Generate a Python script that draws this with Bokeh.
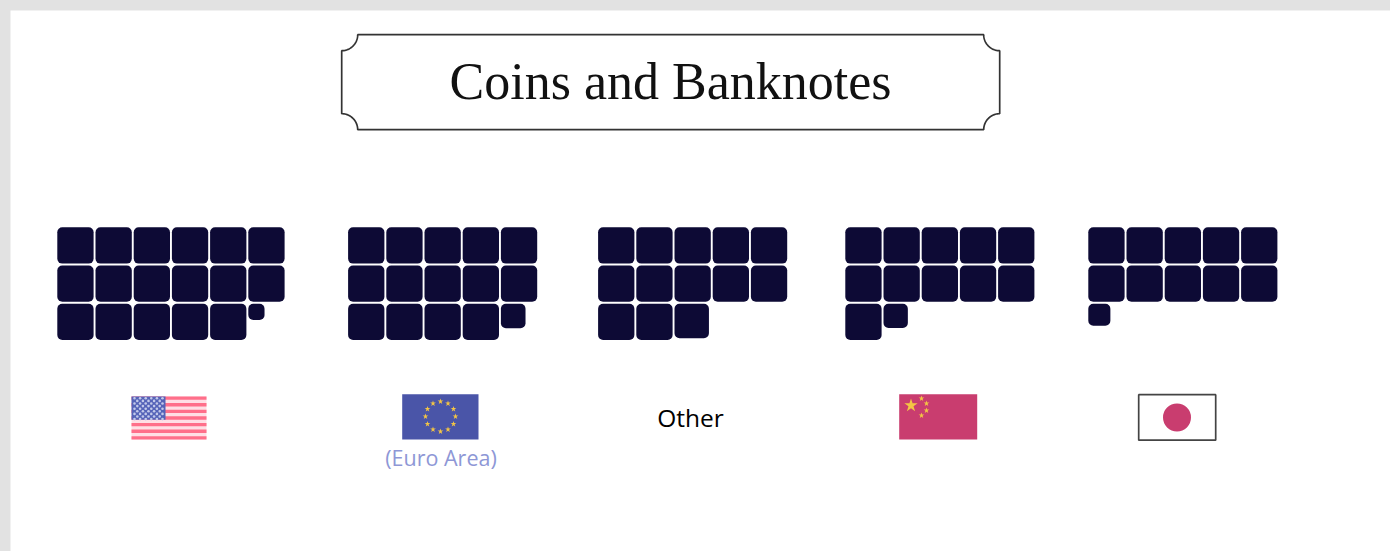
import math
import numpy as np
from bokeh.plotting import figure
from bokeh.models import Range1d, GlobalInlineStyleSheet
from bokeh.core.properties import value
from bokeh.embed import file_html
from bokeh.resources import INLINE

# ---- data ----
title_text = "Coins and Banknotes"
countries = ["United States", "Euro Area", "Other", "China", "Japan"]
amounts = [17.2, 14.46, 12.9, 11.45, 10.37]
row_capacity = [6, 5, 5, 5, 5]

# ---- layout / style ----
group_left = [56.8, 347.6, 597.6, 844.8, 1087.8]
grid_top = 226.8
cell = 36.3
pitch = 38.2
NAVY = "#0d0a35"
PINK = "#c93d6f"
BLUE = "#4a55a8"
GOLD = "#f3c544"
RED = "#ff6f8a"
GREY = "#e2e2e2"

p = figure(width=1390, height=551, output_backend="svg", toolbar_location=None,
           x_range=Range1d(0, 1390), y_range=Range1d(551, 0),
           min_border=0, outline_line_color=None, background_fill_color=GREY,
           border_fill_color=GREY)
p.axis.visible = False
p.grid.visible = False
p.stylesheets = [GlobalInlineStyleSheet(css="html,body{background:#e2e2e2;overflow:hidden}")]

# page panel
p.quad(left=[10], right=[1390], top=[10], bottom=[551], fill_color="white", line_color=None)

# ---- title plaque ----
L, R, T, B, rad = 341.2, 999.2, 34.2, 129.2, 16
def arc(cx, cy, a0, a1):
    t = np.radians(np.linspace(a0, a1, 24))
    return cx + rad * np.cos(t), cy + rad * np.sin(t)
segs = [arc(L, T, 0, 90), arc(L, B, -90, 0), arc(R, B, 180, 270), arc(R, T, 90, 180)]
xs = np.concatenate([s[0] for s in segs])
ys = np.concatenate([s[1] for s in segs])
p.patch(xs, ys, fill_color="white", line_color="#333333", line_width=1.7)
p.text(x=[670], y=[81], text=[title_text], text_font=value("Liberation Serif"),
       text_font_size="52px", text_align="center", text_baseline="middle", text_color="#111111")

# ---- waffles ----
lefts, rights, tops, bottoms = [], [], [], []
for left, amount, cap in zip(group_left, amounts, row_capacity):
    whole = int(math.floor(amount))
    frac = amount - whole
    for i in range(whole + 1):
        size = cell if i < whole else cell * math.sqrt(frac)
        col, row = i % cap, i // cap
        x0 = left + col * pitch
        y0 = grid_top + row * pitch
        lefts.append(x0); rights.append(x0 + size)
        tops.append(y0); bottoms.append(y0 + size)
p.quad(left=lefts, right=rights, top=tops, bottom=bottoms, fill_color=NAVY, line_color=None,
       border_radius=5)

# ---- US flag ----
fx0, fx1, fy0, fy1 = 131, 206, 396, 439
sh = (fy1 - fy0) / 13
p.quad(left=[fx0], right=[fx1], top=[fy0], bottom=[fy1], fill_color="#ffdfe5", line_color=None)
sl = [fy0 + i * sh for i in range(0, 13, 2)]
p.quad(left=fx0, right=fx1, top=sl, bottom=[s + sh for s in sl], fill_color=RED, line_color=None)
p.quad(left=[fx0], right=[165], top=[fy0], bottom=[fy0 + 7 * sh], fill_color="#5563b8", line_color=None)
sx, sy = [], []
for r in range(9):
    for c in range(6 if r % 2 == 0 else 5):
        sx.append(fx0 + 3 + c * 5.6 + (0 if r % 2 == 0 else 2.8))
        sy.append(fy0 + 1.8 + r * 2.6)
p.scatter(sx, sy, marker="circle", size=2.6, fill_color="#c3c9ea", line_color=None)

# ---- EU flag ----
p.quad(left=[401.7], right=[478], top=[393.7], bottom=[439], fill_color=BLUE, line_color=None)
ang = np.radians(np.arange(0, 360, 30))
p.scatter(440 + 15 * np.cos(ang), 416 + 15 * np.sin(ang), marker="star", size=6,
          fill_color=GOLD, line_color=None)
p.text(x=[440.5], y=[457], text=["(Euro Area)"], text_font=value("Open Sans"), text_font_size="21.5px",
       text_align="center", text_baseline="middle", text_color="#8e97d6")

# ---- Other ----
p.text(x=[690], y=[417], text=["Other"], text_font=value("Open Sans"), text_font_size="24.5px",
       text_align="center", text_baseline="middle", text_color="#000000")

# ---- China flag ----
p.quad(left=[898.7], right=[976.7], top=[393.7], bottom=[439], fill_color=PINK, line_color=None)
p.scatter([910.5], [405], marker="star", size=14, fill_color=GOLD, line_color=None)
p.scatter([921, 926, 926, 921], [398, 403, 410, 415], marker="star", size=6,
          fill_color=GOLD, line_color=None)

# ---- Japan flag ----
p.quad(left=[1138.2], right=[1215.2], top=[394.2], bottom=[439.7], fill_color="white",
       line_color="#444444", line_width=1.7)
p.scatter([1176.5], [417], marker="circle", size=28, fill_color=PINK, line_color=None)

open("out.html", "w").write(file_html(p, INLINE))
